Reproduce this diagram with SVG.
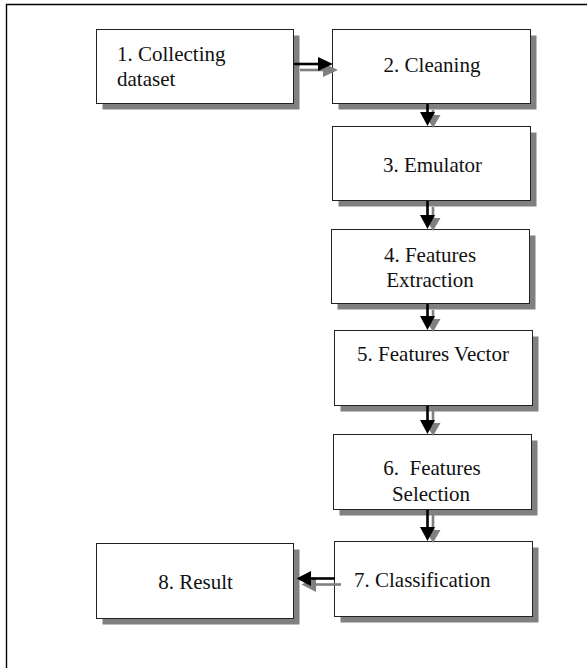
<svg xmlns="http://www.w3.org/2000/svg" width="587" height="668" viewBox="0 0 587 668">
<style>
.frame{fill:none;stroke:#000;stroke-width:1.4}
.sh{fill:#808080}
.box{fill:#fff;stroke:#222;stroke-width:1}
.t{font-family:'Times New Roman',Times,'Liberation Serif',Tinos,serif;font-size:21px;fill:#111}
.c{text-anchor:middle}
.bl{stroke:#000;stroke-width:2.6;fill:none}
.gl{stroke:#808080;stroke-width:2.6;fill:none}
.bh{fill:#000}
.gh{fill:#808080}
</style>
<rect width="587" height="668" fill="#fff"/>
<path class="frame" d="M6.5 668 V4.5 H587"/>
<g id="node1">
<rect class="sh" x="102.5" y="35.5" width="197" height="74"/>
<rect class="box" x="96.5" y="29.5" width="197" height="74"/>
<text class="t" x="117" y="61">1. Collecting</text>
<text class="t" x="117" y="86">dataset</text>
</g>
<g id="node2">
<rect class="sh" x="338.5" y="35.5" width="198" height="74"/>
<rect class="box" x="332.5" y="29.5" width="198" height="74"/>
<text class="t c" x="432" y="72">2. Cleaning</text>
</g>
<g id="node3">
<rect class="sh" x="338.5" y="132.5" width="198" height="74"/>
<rect class="box" x="332.5" y="126.5" width="198" height="74"/>
<text class="t c" x="432.5" y="172">3. Emulator</text>
</g>
<g id="node4">
<rect class="sh" x="337.5" y="235.5" width="198" height="74"/>
<rect class="box" x="331.5" y="229.5" width="198" height="74"/>
<text class="t c" x="430" y="262">4. Features</text>
<text class="t c" x="430" y="287">Extraction</text>
</g>
<g id="node5">
<rect class="sh" x="340.5" y="336.5" width="198" height="75"/>
<rect class="box" x="334.5" y="330.5" width="198" height="75"/>
<text class="t c" x="433" y="361">5. Features Vector</text>
</g>
<g id="node6">
<rect class="sh" x="339.5" y="440.5" width="198" height="75"/>
<rect class="box" x="333.5" y="434.5" width="198" height="75"/>
<text class="t c" x="432" y="475" style="white-space:pre">6.  Features</text>
<text class="t c" x="431" y="501">Selection</text>
</g>
<g id="node7">
<rect class="sh" x="340.5" y="547.5" width="198" height="75"/>
<rect class="box" x="334.5" y="541.5" width="198" height="75"/>
<text class="t" x="354" y="587">7. Classification</text>
</g>
<g id="node8">
<rect class="sh" x="102.5" y="549.5" width="197" height="75"/>
<rect class="box" x="96.5" y="543.5" width="197" height="75"/>
<text class="t c" x="195.5" y="589">8. Result</text>
</g>
<g id="connectors">
<path class="gl" d="M300 70 H324"/>
<polygon class="gh" points="323,63 338,70 323,77"/>
<path class="bl" d="M294 64 H319"/>
<polygon class="bh" points="318,57 333,64 318,71"/>
<path class="gl" d="M433 110 V116"/>
<polygon class="gh" points="425.5,115 433,128 440.5,115"/>
<path class="bl" d="M427.5 104 V113"/>
<polygon class="bh" points="420,112 427.5,126 435,112"/>
<path class="gl" d="M433 207 V219"/>
<polygon class="gh" points="425.5,218 433,231 440.5,218"/>
<path class="bl" d="M427.5 201 V216"/>
<polygon class="bh" points="420,215 427.5,229 435,215"/>
<path class="gl" d="M433 310 V320"/>
<polygon class="gh" points="425.5,319 433,332 440.5,319"/>
<path class="bl" d="M427.5 304 V317"/>
<polygon class="bh" points="420,316 427.5,330 435,316"/>
<path class="gl" d="M433 411 V424"/>
<polygon class="gh" points="425.5,423 433,436 440.5,423"/>
<path class="bl" d="M427.5 406 V421"/>
<polygon class="bh" points="420,420 427.5,434 435,420"/>
<path class="gl" d="M433 515 V531"/>
<polygon class="gh" points="425.5,530 433,543 440.5,530"/>
<path class="bl" d="M427.5 510 V528"/>
<polygon class="bh" points="420,527 427.5,541 435,527"/>
<path class="gl" d="M341 584.5 H315"/>
<polygon class="gh" points="316,577 301.5,584.5 316,592"/>
<path class="bl" d="M335 578.5 H310"/>
<polygon class="bh" points="311,571 296.5,578.5 311,586"/>
</g>
</svg>
